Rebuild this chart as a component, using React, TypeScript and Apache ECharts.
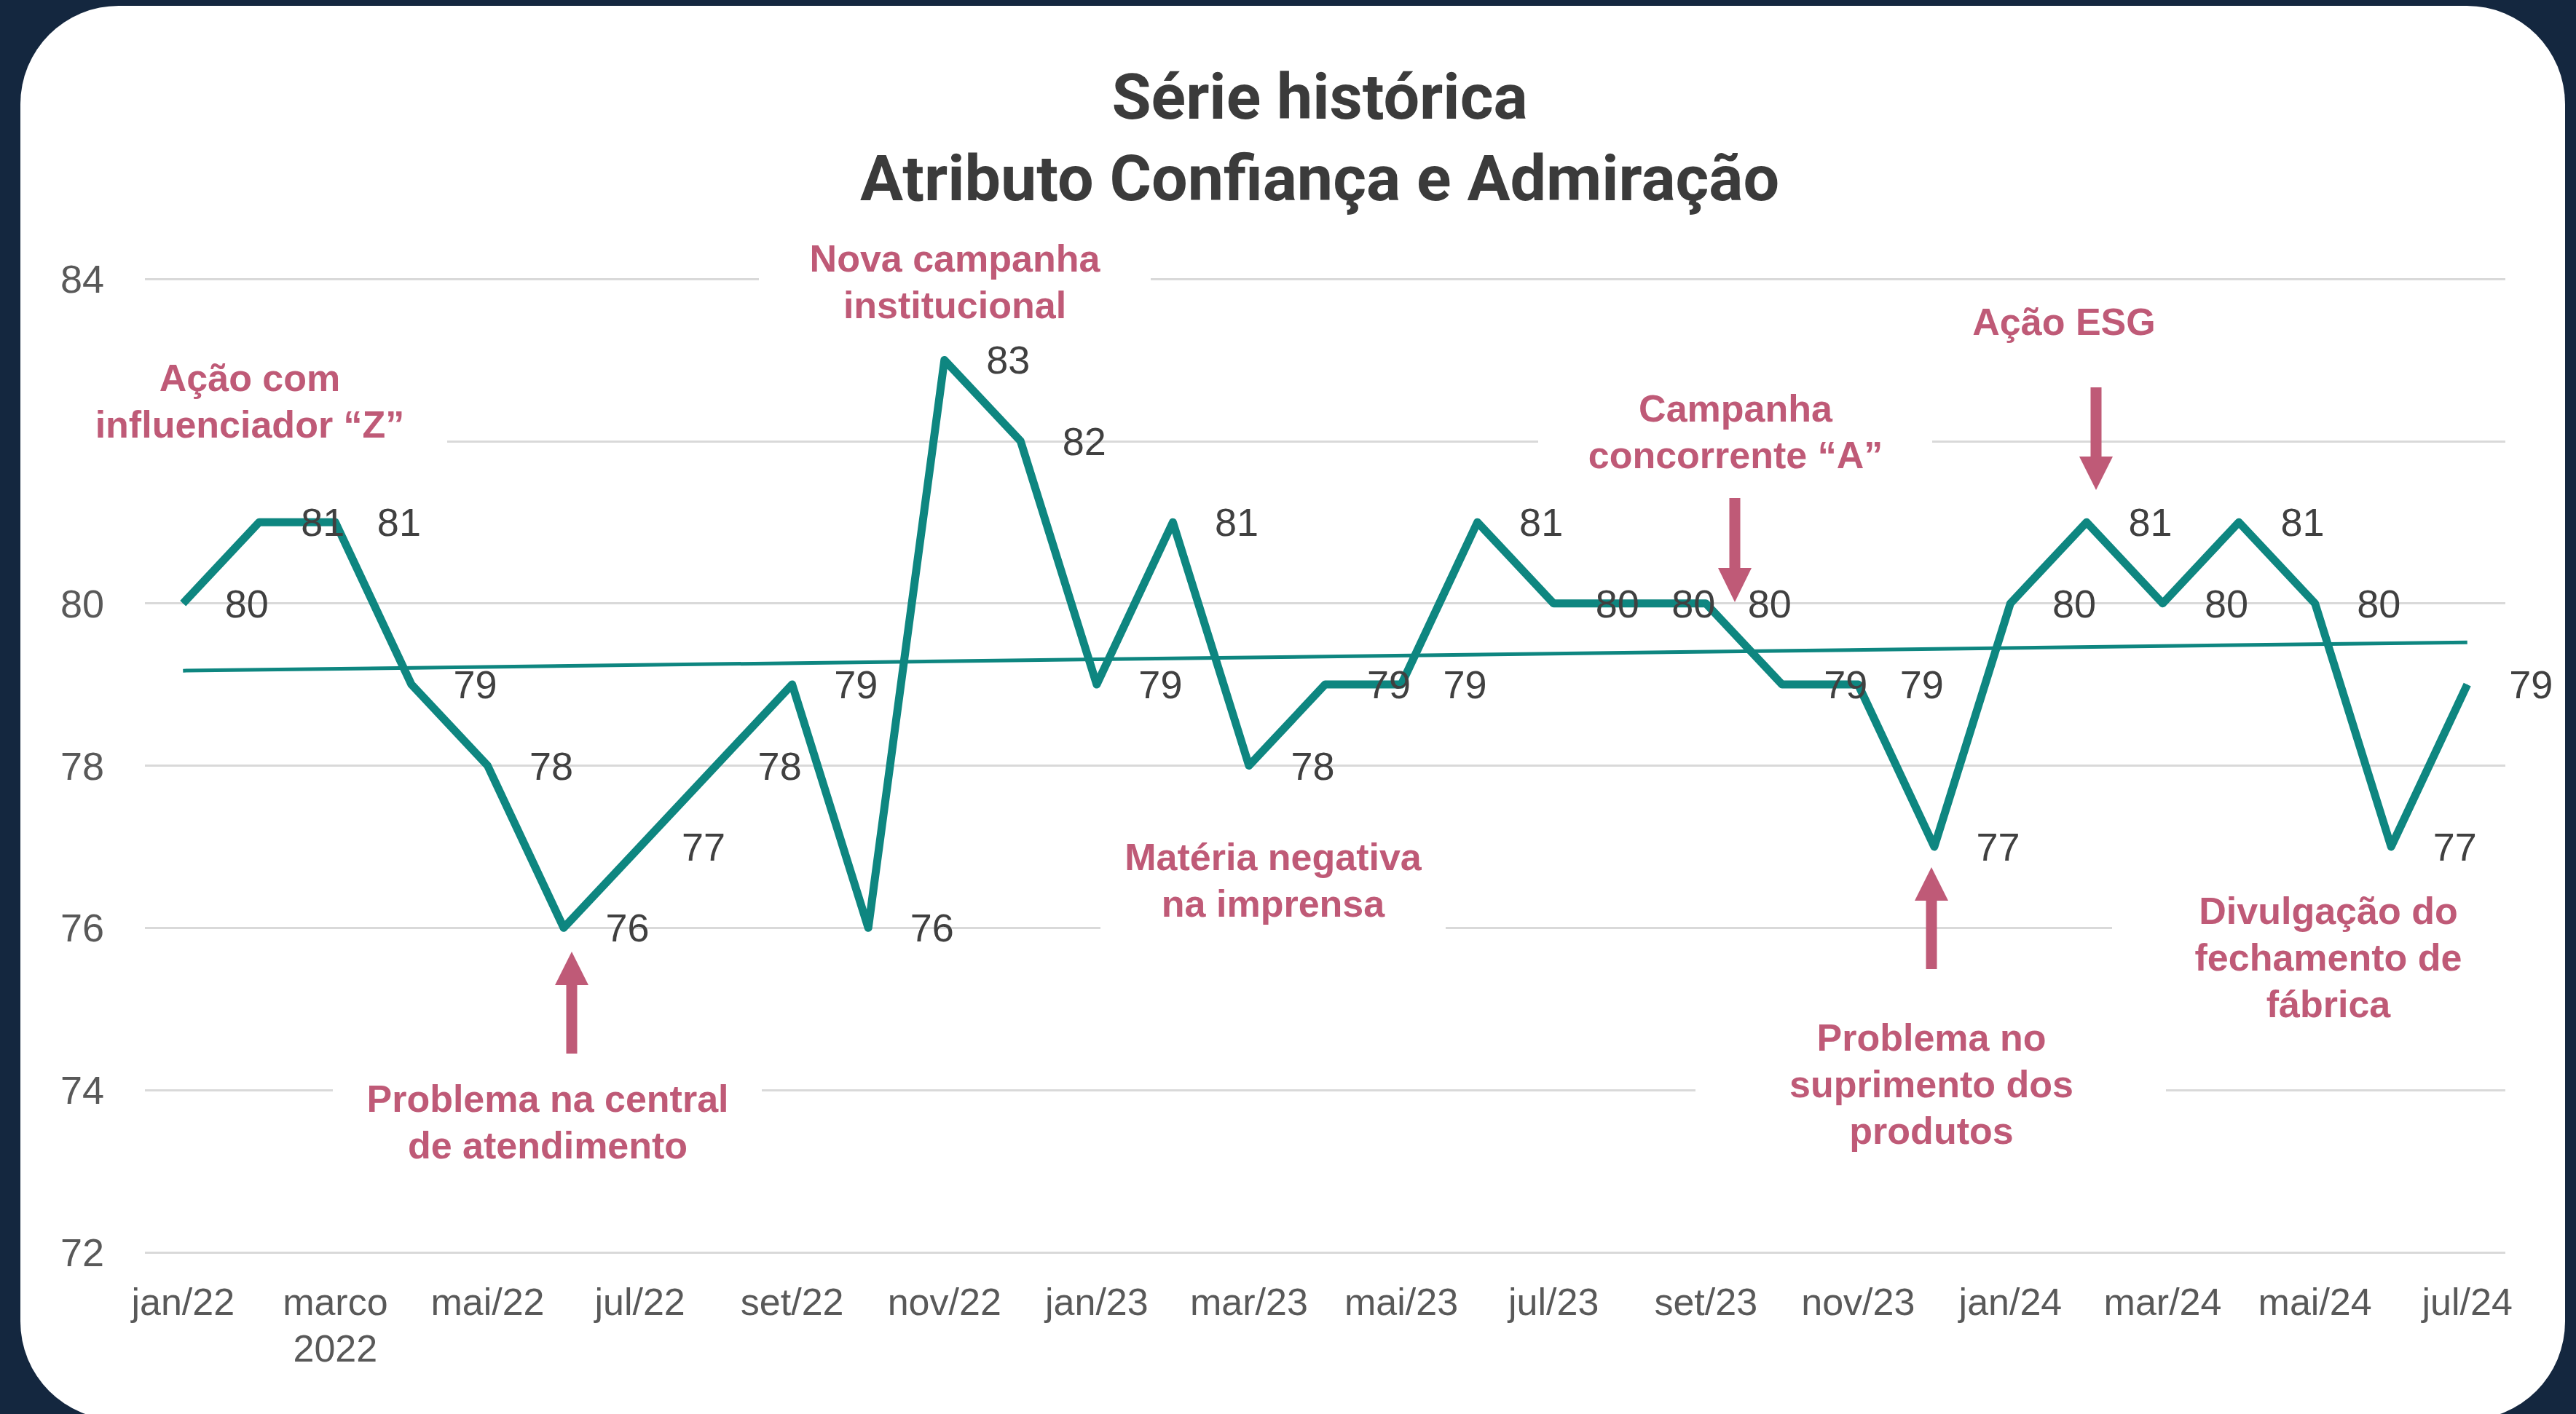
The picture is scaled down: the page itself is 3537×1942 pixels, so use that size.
import React, { useEffect, useRef } from "react";
import * as echarts from "echarts";

const categories = [
  "jan/22", "fev/22", "marco\n2022", "abr/22", "mai/22", "jun/22", "jul/22", "ago/22",
  "set/22", "out/22", "nov/22", "dez/22", "jan/23", "fev/23", "mar/23", "abr/23",
  "mai/23", "jun/23", "jul/23", "ago/23", "set/23", "out/23", "nov/23", "dez/23",
  "jan/24", "fev/24", "mar/24", "abr/24", "mai/24", "jun/24", "jul/24",
];
const values = [
  80, 81, 81, 79, 78, 76, 77, 78, 79, 76, 83, 82, 79, 81, 78, 79,
  79, 81, 80, 80, 80, 79, 79, 77, 80, 81, 80, 81, 80, 77, 79,
];
const trendStart = 79.17;
const trendEnd = 79.52;
const yMin = 72;
const yMax = 84;
const yStep = 2;
const hiddenYTick = 82; // covered by the annotation box in the reference
const titleLines = ["Série histórica", "Atributo Confiança e Admiração"];
const annotationTexts = [
  "Ação com\ninfluenciador “Z”",
  "Nova campanha\ninstitucional",
  "Campanha\nconcorrente “A”",
  "Ação ESG",
  "Matéria negativa\nna imprensa",
  "Problema na central\nde atendimento",
  "Problema no\nsuprimento dos\nprodutos",
  "Divulgação do\nfechamento de\nfábrica",
];

// layout (pixels) for annotation boxes: [textCenterX, textCenterY, boxX0, boxY0, boxX1, boxY1]
const annotationLayout: number[][] = [
  [343, 551, 72, 478, 614, 622],
  [1311, 387, 1042, 320, 1580, 450],
  [2383, 593, 2112, 520, 2653, 668],
  [2834, 442, 0, 0, 0, 0],
  [1748, 1209, 1511, 1140, 1985, 1290],
  [752, 1541, 457, 1466, 1046, 1612],
  [2652, 1489, 2328, 1390, 2974, 1595],
  [3197, 1315, 2900, 1215, 3470, 1415],
];
// arrows: [x, tailY, headBaseY, tipY]
const arrowLayout: number[][] = [
  [2382, 684, 780, 827],
  [2878, 532, 627, 673],
  [785, 1447, 1353, 1307],
  [2652, 1331, 1237, 1191],
];

const TEAL = "#0e8680";
const PINK = "#bf5a77";
const FONT = "'Liberation Sans', Arial, sans-serif";

function arrowPoints(a: number[]) {
  const [x, t, b, tip] = a;
  const sw = 7.5;
  const hw = 23;
  return [
    [x - sw, t],
    [x + sw, t],
    [x + sw, b],
    [x + hw, b],
    [x, tip],
    [x - hw, b],
    [x - sw, b],
  ];
}

export default function App() {
  const ref = useRef<HTMLDivElement>(null);

  useEffect(() => {
    if (!ref.current) return;
    const chart = echarts.init(ref.current, null, { renderer: "svg" });

    const elements: any[] = [];
    titleLines.forEach((t, i) => {
      elements.push({
        type: "text",
        x: 1812,
        y: i === 0 ? 132 : 244,
        z: 100,
        style: {
          text: t,
          fill: "#3b3b3b",
          fontSize: 88,
          fontWeight: "bold",
          fontFamily: "Roboto, 'Liberation Sans', sans-serif",
          align: "center",
          verticalAlign: "middle",
        },
      });
    });
    annotationTexts.forEach((t, i) => {
      const L = annotationLayout[i];
      if (L[4] > L[2]) {
        elements.push({
          type: "rect",
          z: 100,
          shape: { x: L[2], y: L[3], width: L[4] - L[2], height: L[5] - L[3] },
          style: { fill: "#ffffff" },
        });
      }
      elements.push({
        type: "text",
        x: L[0],
        y: L[1],
        z: 101,
        style: {
          text: t,
          fill: PINK,
          fontSize: 52,
          fontWeight: "bold",
          fontFamily: FONT,
          lineHeight: 64,
          align: "center",
          verticalAlign: "middle",
        },
      });
    });
    arrowLayout.forEach((a) => {
      elements.push({
        type: "polygon",
        z: 101,
        shape: { points: arrowPoints(a) },
        style: { fill: PINK },
      });
    });

    chart.setOption({
      animation: false,
      backgroundColor: "transparent",
      grid: { left: 199, right: 97, top: 383, bottom: 222, containLabel: false },
      xAxis: {
        type: "category",
        data: categories,
        boundaryGap: true,
        axisLine: { show: false },
        axisTick: { show: false },
        axisLabel: {
          interval: 1,
          fontSize: 52,
          lineHeight: 64,
          color: "#595959",
          margin: 36,
          fontFamily: FONT,
        },
      },
      yAxis: {
        type: "value",
        min: yMin,
        max: yMax,
        interval: yStep,
        axisLine: { show: false },
        axisTick: { show: false },
        axisLabel: {
          fontSize: 54,
          color: "#595959",
          margin: 56,
          fontFamily: FONT,
          formatter: (v: number) => (v === hiddenYTick ? "" : String(v)),
        },
        splitLine: { lineStyle: { color: "#d9d9d9", width: 3 } },
      },
      series: [
        {
          type: "line",
          data: [
            [0, trendStart],
            [categories.length - 1, trendEnd],
          ],
          symbol: "none",
          silent: true,
          z: 2,
          lineStyle: { color: TEAL, width: 5 },
        },
        {
          type: "line",
          data: values,
          symbol: "circle",
          symbolSize: 1,
          showSymbol: true,
          z: 3,
          itemStyle: { color: TEAL },
          lineStyle: { color: TEAL, width: 11, join: "round" },
          label: {
            show: true,
            position: "right",
            distance: 57,
            fontSize: 54,
            color: "#404040",
            fontFamily: FONT,
          },
        },
      ],
      graphic: { elements },
    });

    return () => chart.dispose();
  }, []);

  return (
    <div style={{ position: "fixed", left: 0, top: 0, width: 3537, height: 1942, background: "#14273f", overflow: "hidden" }}>
      <div
        style={{
          position: "absolute",
          left: 28,
          top: 8,
          width: 3494,
          height: 1942,
          background: "#ffffff",
          borderRadius: 135,
        }}
      />
      <div ref={ref} style={{ position: "absolute", left: 0, top: 0, width: 3537, height: 1942 }} />
    </div>
  );
}
